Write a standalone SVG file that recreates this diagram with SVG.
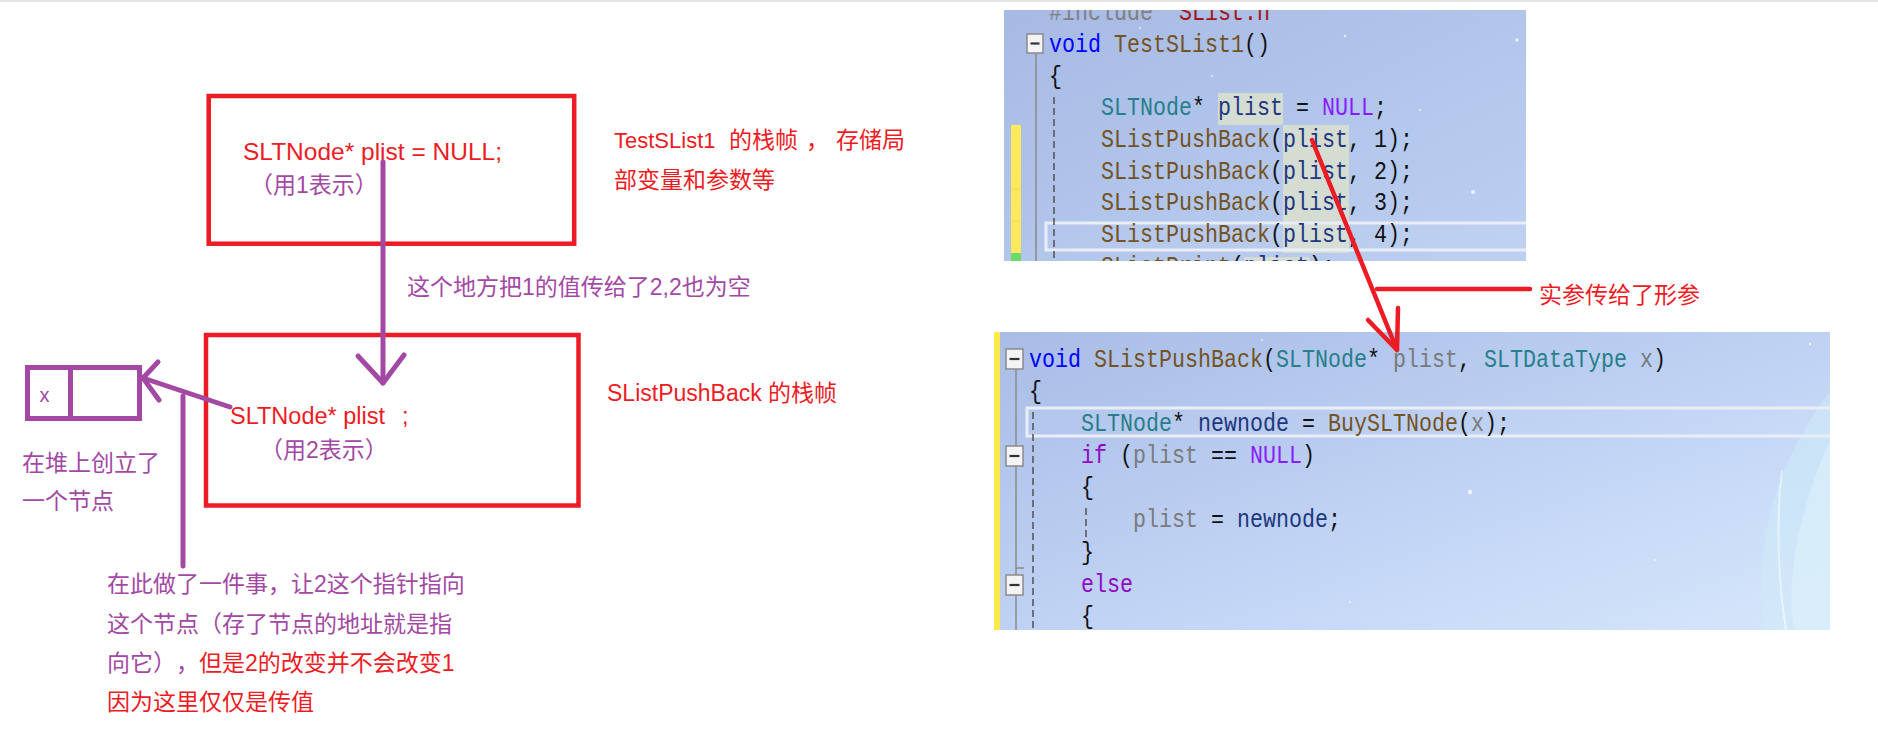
<svg xmlns="http://www.w3.org/2000/svg" width="1878" height="754" viewBox="0 0 1878 754">
<defs>
<style>
.ann{font-family:"Liberation Sans","Noto Sans CJK SC",sans-serif;font-size:23px;text-spacing-trim:space-all}
.red{fill:#ed1c24}
.pur{fill:#a349a4}
.frame{fill:none;stroke:#ed1c24;stroke-width:4.5}
.pline{fill:none;stroke:#a349a4;stroke-width:5;stroke-linecap:round;stroke-linejoin:round}
.rline{fill:none;stroke:#ed1c24;stroke-width:4.5;stroke-linecap:round;stroke-linejoin:round}
.code{font-family:"Liberation Mono",monospace;font-size:26px;fill:#111}
.kw{fill:#0000ff}.fn{fill:#74531f}.ty{fill:#267f8a}.lv{fill:#1f377f}.pa{fill:#7a7a7a}.mac{fill:#8a1bff}.ctl{fill:#8f08c4}.inc{fill:#808080}.str{fill:#a31515}
.fold{fill:#f4f4f4;stroke:#8a8a8a;stroke-width:1.5}
.foldm{stroke:#333;stroke-width:2.2}
.guide{stroke:#8a8a8a;stroke-width:1.5;fill:none}
.dash{stroke:#505050;stroke-width:1.5;stroke-dasharray:7 4;fill:none}
.cur{fill:#ffffff;fill-opacity:0.05;stroke:#e9edf5;stroke-width:3}
.hl{fill:#d5ddd3}
.spark{fill:#ffffff;opacity:0.75}
</style>
<linearGradient id="gTop" x1="0" y1="0" x2="1" y2="1">
<stop offset="0" stop-color="#a6bae4"/>
<stop offset="1" stop-color="#bdd0f2"/>
</linearGradient>
<linearGradient id="gBot" x1="0" y1="0" x2="1" y2="1">
<stop offset="0" stop-color="#a8bce6"/>
<stop offset="0.6" stop-color="#c3d6f6"/>
<stop offset="1" stop-color="#d6e7fb"/>
</linearGradient>
<clipPath id="clipTop"><rect x="1004" y="10" width="522" height="251"/></clipPath>
<clipPath id="clipBot"><rect x="994" y="332" width="836" height="298"/></clipPath>
</defs>
<rect x="0" y="0" width="1878" height="754" fill="#ffffff"/>
<line x1="0" y1="1" x2="1878" y2="1" stroke="#e3e3e3" stroke-width="2"/>

<g id="code-caller" clip-path="url(#clipTop)">
<rect x="1004" y="10" width="522" height="251" fill="url(#gTop)"/>
<circle class="spark" cx="1517" cy="40" r="1.8"/>
<circle class="spark" cx="1345" cy="36" r="1.2"/>
<circle class="spark" cx="1140" cy="28" r="1"/>
<circle class="spark" cx="1473" cy="192" r="2"/>
<circle class="spark" cx="1212" cy="76" r="1"/>
<circle class="spark" cx="1420" cy="110" r="1"/>
<rect x="1011" y="125" width="10" height="128" fill="#fde95c"/>
<line x1="1011" y1="189" x2="1021" y2="189" stroke="#efdc55" stroke-width="1"/>
<line x1="1011" y1="221" x2="1021" y2="221" stroke="#efdc55" stroke-width="1"/>
<rect x="1011" y="253" width="10" height="8" fill="#6bdc6b"/>
<rect class="hl" x="1218" y="93" width="65" height="32"/>
<rect class="hl" x="1283" y="125" width="66" height="128"/>
<rect class="hl" x="1244" y="257" width="66" height="10"/>
<rect class="cur" x="1046" y="223" width="500" height="27"/>
<line class="guide" x1="1036" y1="54" x2="1036" y2="261"/>
<line class="dash" x1="1054" y1="97" x2="1054" y2="261"/>
<rect class="fold" x="1027" y="34" width="16" height="19"/>
<line class="foldm" x1="1030.5" y1="43.5" x2="1039.5" y2="43.5"/>
<g class="code" transform="matrix(0.8333 0 0 1 1049 0)">
<text x="0" y="20.3"><tspan class="inc">#include</tspan> <tspan class="str">"SList.h"</tspan></text>
<text x="0" y="52"><tspan class="kw">void</tspan> <tspan class="fn">TestSList1</tspan>()</text>
<text x="0" y="83.7">{</text>
<text x="62.4" y="115.4"><tspan class="ty">SLTNode</tspan>* <tspan class="lv">plist</tspan> = <tspan class="mac">NULL</tspan>;</text>
<text x="62.4" y="147.1"><tspan class="fn">SListPushBack</tspan>(<tspan class="lv">plist</tspan>, 1);</text>
<text x="62.4" y="178.8"><tspan class="fn">SListPushBack</tspan>(<tspan class="lv">plist</tspan>, 2);</text>
<text x="62.4" y="210.5"><tspan class="fn">SListPushBack</tspan>(<tspan class="lv">plist</tspan>, 3);</text>
<text x="62.4" y="242.2"><tspan class="fn">SListPushBack</tspan>(<tspan class="lv">plist</tspan>, 4);</text>
<text x="62.4" y="273.9"><tspan class="fn">SListPrint</tspan>(<tspan class="lv">plist</tspan>);</text>
</g>
</g>

<g id="code-callee" clip-path="url(#clipBot)">
<rect x="994" y="332" width="836" height="298" fill="url(#gBot)"/>
<path d="M1830,392 C1800,430 1772,485 1764,545 C1759,585 1761,612 1765,630 L1830,630 Z" fill="#cdebf8" opacity="0.55"/>
<path d="M1830,440 C1812,480 1796,530 1792,580 C1790,605 1792,620 1795,630 L1830,630 Z" fill="#e2f4fb" opacity="0.5"/>
<path d="M1782,470 C1776,520 1778,580 1786,630" fill="none" stroke="#ffffff" stroke-opacity="0.5" stroke-width="2"/>
<circle class="spark" cx="1470" cy="492" r="2.2"/>
<circle class="spark" cx="1262" cy="340" r="1"/>
<circle class="spark" cx="1600" cy="360" r="1"/>
<circle class="spark" cx="1810" cy="344" r="1.2"/>
<circle class="spark" cx="1655" cy="560" r="1"/>
<circle class="spark" cx="1350" cy="602" r="1"/>
<rect x="994" y="332" width="6" height="298" fill="#fbe94e"/>
<rect class="cur" x="1027" y="408" width="820" height="28"/>
<line class="guide" x1="1016" y1="369" x2="1016" y2="630"/>
<line class="guide" x1="1016" y1="568" x2="1024" y2="568"/>
<line class="dash" x1="1033" y1="412" x2="1033" y2="630"/>
<line class="dash" x1="1086" y1="508" x2="1086" y2="537"/>
<rect class="fold" x="1006" y="349" width="17" height="20"/>
<line class="foldm" x1="1009.5" y1="359" x2="1019.5" y2="359"/>
<rect class="fold" x="1006" y="446" width="17" height="20"/>
<line class="foldm" x1="1009.5" y1="456" x2="1019.5" y2="456"/>
<rect class="fold" x="1006" y="575" width="17" height="20"/>
<line class="foldm" x1="1009.5" y1="585" x2="1019.5" y2="585"/>
<g class="code" transform="matrix(0.8333 0 0 1 1029 0)">
<text x="0" y="367"><tspan class="kw">void</tspan> <tspan class="fn">SListPushBack</tspan>(<tspan class="ty">SLTNode</tspan>* <tspan class="pa">plist</tspan>, <tspan class="ty">SLTDataType</tspan> <tspan class="pa">x</tspan>)</text>
<text x="0" y="399.1">{</text>
<text x="62.4" y="431.2"><tspan class="ty">SLTNode</tspan>* <tspan class="lv">newnode</tspan> = <tspan class="fn">BuySLTNode</tspan>(<tspan class="pa">x</tspan>);</text>
<text x="62.4" y="463.3"><tspan class="ctl">if</tspan> (<tspan class="pa">plist</tspan> == <tspan class="mac">NULL</tspan>)</text>
<text x="62.4" y="495.4">{</text>
<text x="124.8" y="527.5"><tspan class="pa">plist</tspan> = <tspan class="lv">newnode</tspan>;</text>
<text x="62.4" y="559.6">}</text>
<text x="62.4" y="591.7"><tspan class="ctl">else</tspan></text>
<text x="62.4" y="623.8">{</text>
</g>
</g>

<g id="frame-testslist1">
<rect class="frame" x="208.7" y="96" width="365.5" height="147.7"/>
<text class="ann red" x="243" y="160" style="font-size:24.5px">SLTNode* plist = NULL;</text>
<text class="ann pur" x="250" y="193">（用1表示）</text>
</g>

<g id="frame-pushback">
<rect class="frame" x="206" y="335" width="372.5" height="170.5"/>
<text class="ann red" x="230" y="424" style="font-size:23.5px"><tspan>SLTNode* plist </tspan><tspan x="402">;</tspan></text>
<text class="ann pur" x="260" y="458">（用2表示）</text>
</g>

<g id="heap-node">
<rect x="27.5" y="367.5" width="112" height="51" fill="none" stroke="#a349a4" stroke-width="5"/>
<line x1="70.5" y1="367.5" x2="70.5" y2="418.5" stroke="#a349a4" stroke-width="5"/>
<text class="ann pur" x="39.5" y="402" style="font-size:20px">x</text>
</g>

<g id="note-frame1">
<text class="ann red" x="614" y="148"><tspan style="font-size:22px">TestSList1 </tspan><tspan x="729">的栈帧 </tspan><tspan x="806">， </tspan><tspan x="836">存储局</tspan></text>
<text class="ann red" x="614" y="188">部变量和参数等</text>
</g>

<g id="note-frame2">
<text class="ann red" x="607" y="401">SListPushBack 的栈帧</text>
</g>

<g id="note-pass">
<text class="ann pur" x="407" y="295">这个地方把1的值传给了2,2也为空</text>
</g>

<g id="note-heap">
<text class="ann pur" x="22" y="471">在堆上创立了</text>
<text class="ann pur" x="22" y="509">一个节点</text>
</g>

<g id="note-explain">
<text class="ann pur" x="107" y="592">在此做了一件事，让2这个指针指向</text>
<text class="ann pur" x="107" y="631.5">这个节点（存了节点的地址就是指</text>
<text class="ann" x="107" y="671"><tspan class="pur">向它），</tspan><tspan class="red" x="199">但是2的改变并不会改变1</tspan></text>
<text class="ann red" x="107" y="710">因为这里仅仅是传值</text>
</g>

<g id="note-arg">
<text class="ann red" x="1539" y="303">实参传给了形参</text>
</g>

<g id="connectors">
<line class="pline" x1="383" y1="162" x2="383" y2="383"/>
<polyline class="pline" points="358,356 383,383 404,355"/>
<line class="pline" x1="230" y1="407" x2="143" y2="378"/>
<polyline class="pline" points="158,362 143,378 159,400"/>
<line class="pline" x1="183" y1="396" x2="183" y2="566"/>
<line class="rline" x1="1312" y1="140" x2="1397" y2="350"/>
<polyline class="rline" points="1368,320 1397,350 1398,308"/>
<line class="rline" x1="1377" y1="289" x2="1530" y2="289"/>
</g>
</svg>
